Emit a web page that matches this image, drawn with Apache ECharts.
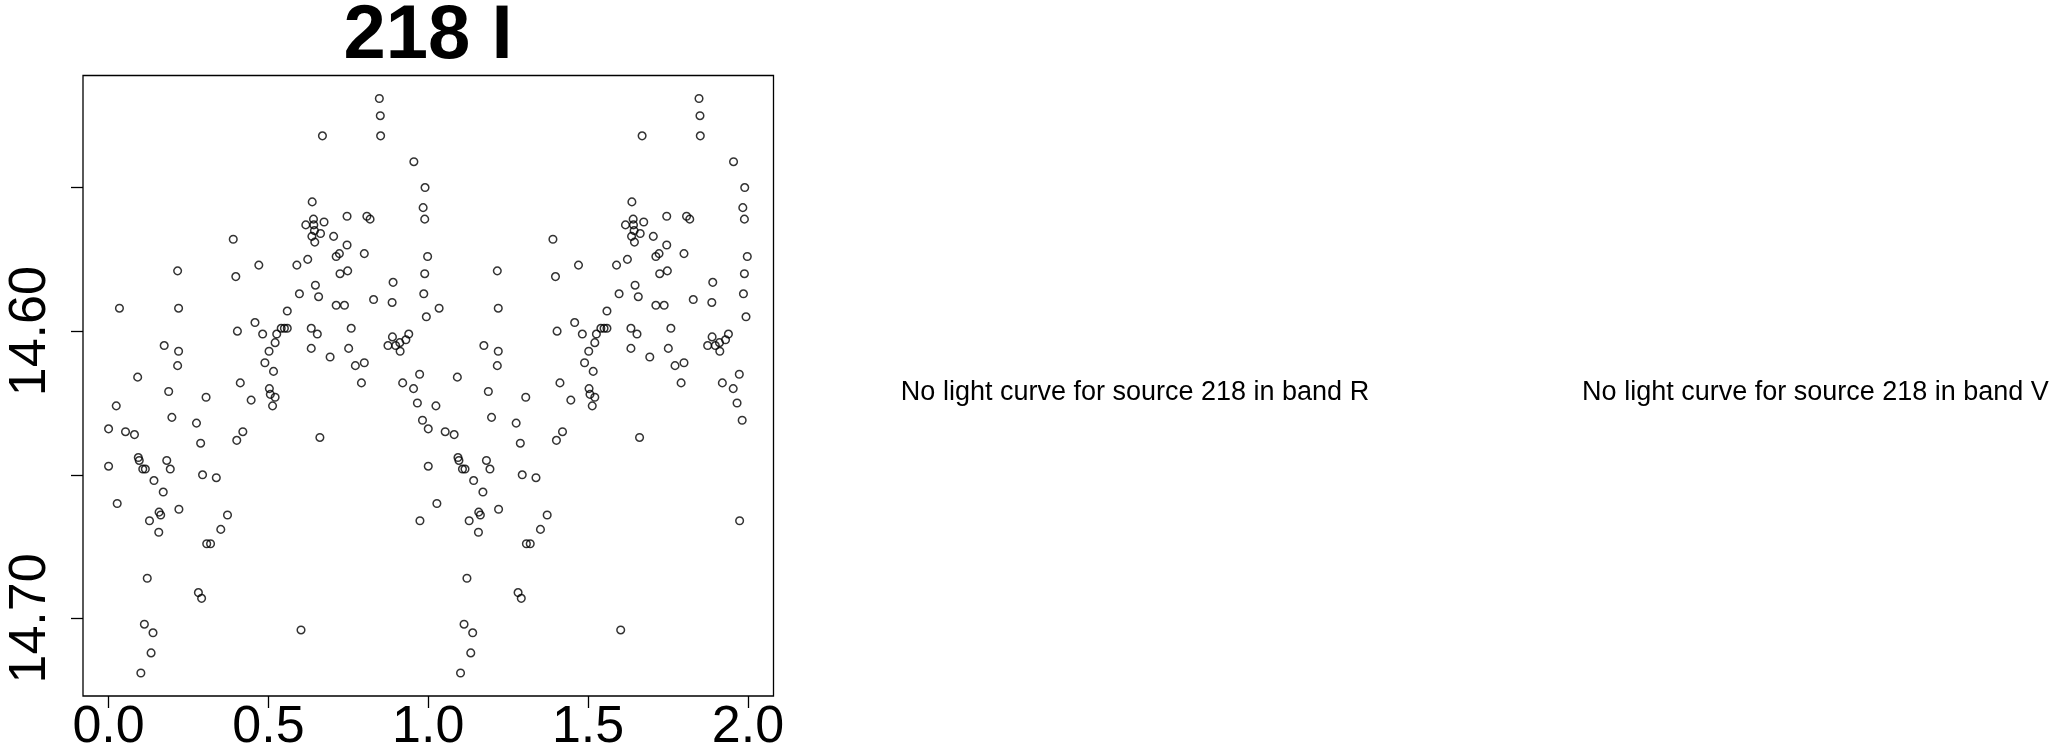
<!DOCTYPE html>
<html>
<head>
<meta charset="utf-8">
<script src="https://cdn.jsdelivr.net/npm/echarts@6/dist/echarts.min.js"></script>
<style>
html,body{margin:0;padding:0;background:#fff;}
#chart{width:2058px;height:754px;}
</style>
</head>
<body>
<div id="chart"></div>
<script>
// Title and panel messages
var titleText = '218 I';
var messages = ['No light curve for source 218 in band R', 'No light curve for source 218 in band V'];

// Tick values
var xTicks = [0, 0.5, 1, 1.5, 2];
var yTicks = [14.55, 14.60, 14.65, 14.70];
var yTickLabels = [14.60, 14.70];

// Phase-folded light curve, band I (first cycle)
var phase1 = [0.000,0.000,0.024,0.027,0.034,0.053,0.081,0.091,0.093,0.096,0.107,0.115,0.101,0.112,0.121,0.128,0.133,0.139,0.142,0.157,
0.158,0.163,0.171,0.174,0.182,0.188,0.193,0.198,0.216,0.219,0.219,0.216,0.220,0.275,0.281,0.288,0.291,0.294,0.305,0.307,
0.319,0.337,0.351,0.372,0.390,0.398,0.401,0.403,0.412,0.420,0.446,0.458,0.470,0.482,0.489,0.502,0.503,0.506,0.513,0.516,
0.521,0.521,0.526,0.540,0.550,0.559,0.559,0.589,0.597,0.602,0.617,0.623,0.634,0.634,0.636,0.637,0.641,0.642,0.645,0.647,
0.653,0.657,0.661,0.663,0.669,0.674,0.693,0.704,0.712,0.722,0.724,0.712,0.738,0.746,0.746,0.748,0.751,0.759,0.772,0.791,
0.800,0.800,0.808,0.818,0.829,0.847,0.850,0.851,0.874,0.887,0.888,0.890,0.898,0.912,0.920,0.930,0.939,0.955,0.954,0.966,
0.973,0.974,0.982,0.984,0.986,0.989,0.989,0.990,0.994,0.998,0.911,0.644];
// Same observations drawn again over the second cycle
var phase2 = [1.000,1.000,1.024,1.027,1.034,1.053,1.081,1.091,1.093,1.096,1.107,1.115,1.101,1.112,1.121,1.128,1.133,1.139,1.142,1.157,
1.158,1.163,1.171,1.174,1.182,1.188,1.193,1.198,1.216,1.219,1.219,1.216,1.220,1.275,1.281,1.288,1.291,1.294,1.305,1.307,
1.319,1.337,1.351,1.372,1.390,1.398,1.401,1.403,1.412,1.420,1.446,1.458,1.470,1.482,1.489,1.502,1.503,1.506,1.513,1.516,
1.521,1.521,1.526,1.540,1.550,1.559,1.559,1.589,1.597,1.602,1.617,1.623,1.634,1.634,1.636,1.637,1.641,1.642,1.645,1.647,
1.653,1.657,1.661,1.663,1.669,1.674,1.693,1.704,1.712,1.722,1.724,1.712,1.738,1.746,1.746,1.748,1.751,1.759,1.772,1.791,
1.800,1.800,1.808,1.818,1.829,1.847,1.850,1.851,1.874,1.887,1.888,1.890,1.898,1.912,1.920,1.930,1.939,1.955,1.954,1.966,
1.973,1.974,1.982,1.984,1.986,1.989,1.989,1.990,1.994,1.998,1.911,1.644];
var mag = [14.634,14.647,14.626,14.660,14.592,14.635,14.636,14.616,14.644,14.645,14.648,14.648,14.719,14.702,14.686,14.666,14.712,14.705,14.652,14.670,
14.663,14.664,14.656,14.605,14.645,14.621,14.648,14.630,14.579,14.592,14.607,14.612,14.662,14.632,14.691,14.639,14.693,14.650,14.623,14.674,
14.674,14.651,14.669,14.664,14.568,14.581,14.638,14.600,14.618,14.635,14.624,14.597,14.577,14.601,14.611,14.607,14.620,14.622,14.626,14.614,
14.623,14.604,14.601,14.599,14.599,14.599,14.593,14.577,14.587,14.704,14.563,14.575,14.599,14.606,14.567,14.555,14.561,14.563,14.569,14.584,
14.601,14.588,14.637,14.566,14.532,14.562,14.609,14.567,14.574,14.573,14.580,14.591,14.591,14.560,14.570,14.579,14.606,14.599,14.612,14.618,
14.573,14.611,14.560,14.561,14.589,14.519,14.525,14.532,14.605,14.590,14.602,14.583,14.605,14.607,14.618,14.603,14.601,14.541,14.620,14.625,
14.615,14.666,14.631,14.557,14.587,14.561,14.580,14.550,14.595,14.574,14.604,14.565];

var pts = [];
for (var i = 0; i < mag.length; i++) { pts.push([phase1[i], mag[i]]); }
for (var j = 0; j < mag.length; j++) { pts.push([phase2[j], mag[j]]); }

var FONT = '"Liberation Sans", Arial, Helvetica, sans-serif';
var chart = echarts.init(document.getElementById('chart'), null, {renderer: 'canvas'});
chart.setOption({
  backgroundColor: '#ffffff',
  animation: false,
  grid: {left: 83, top: 75.5, width: 690.5, height: 621.5, show: true, borderColor: '#000', borderWidth: 1.3, backgroundColor: 'transparent'},
  xAxis: {
    type: 'value', min: -0.08, max: 2.08,
    axisLine: {show: false, onZero: false},
    splitLine: {show: false},
    axisTick: {show: true, inside: false, length: 12, customValues: xTicks, lineStyle: {color: '#000', width: 1.3}},
    axisLabel: {show: true, customValues: xTicks, margin: 6, fontSize: 52, color: '#000', fontFamily: FONT,
      formatter: function (v) { return v.toFixed(1); }}
  },
  yAxis: {
    type: 'value', inverse: true, min: 14.511, max: 14.727,
    axisLine: {show: false, onZero: false},
    splitLine: {show: false},
    axisTick: {show: true, inside: false, length: 12, customValues: yTicks, lineStyle: {color: '#000', width: 1.3}},
    axisLabel: {show: true, customValues: yTickLabels, rotate: 90, margin: 26, fontSize: 52, color: '#000', fontFamily: FONT,
      formatter: function (v) { return v.toFixed(2); }}
  },
  series: [{
    type: 'scatter',
    data: pts,
    symbol: 'circle',
    symbolSize: 7.6,
    itemStyle: {color: 'rgba(255,255,255,0)', borderColor: '#000', borderWidth: 1.5},
    emphasis: {disabled: true}
  }],
  graphic: [
    {type: 'text', x: 428, y: 37, style: {text: titleText, fill: '#000', font: 'bold 76px ' + FONT, textAlign: 'center', textVerticalAlign: 'middle'}},
    {type: 'text', x: 1135, y: 393, style: {text: messages[0], fill: '#000', font: '27px ' + FONT, textAlign: 'center', textVerticalAlign: 'middle'}},
    {type: 'text', x: 1815.5, y: 393, style: {text: messages[1], fill: '#000', font: '27px ' + FONT, textAlign: 'center', textVerticalAlign: 'middle'}}
  ]
});
</script>
</body>
</html>
